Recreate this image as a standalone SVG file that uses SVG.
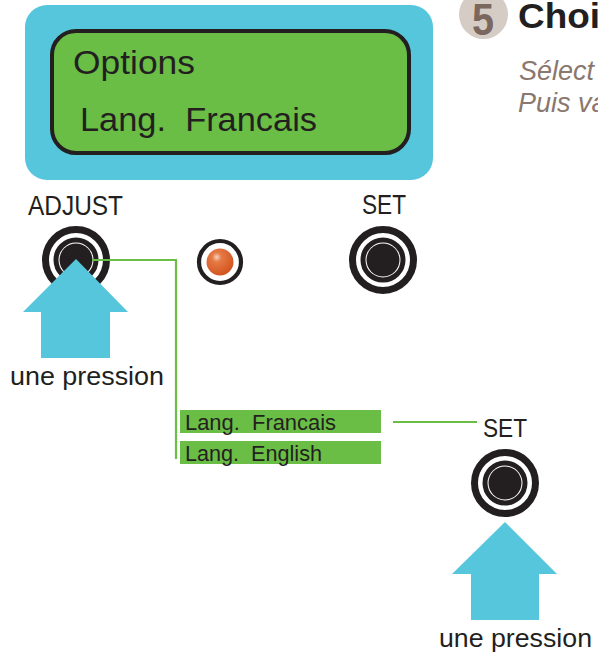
<svg xmlns="http://www.w3.org/2000/svg" width="598" height="659" viewBox="0 0 598 659">
  <style>
    .lbl { font-family: "Liberation Sans", Arial, sans-serif; fill: #231F20; white-space: pre; }
    .lcd { fill: #6ABD45; stroke: #231F20; stroke-width: 4; }
    .panel { fill: #56C6DD; }
    .press { fill: #56C6DD; }
    .ring-o { fill: none; stroke: #231F20; stroke-width: 7; }
    .ring-i { fill: none; stroke: #231F20; stroke-width: 5; }
    .disc { fill: #231F20; }
    .menu { fill: #6ABD45; }
    .wire { fill: none; stroke: #6ABD45; stroke-width: 2.2; }
    .head { font-family: "Liberation Sans", Arial, sans-serif; font-weight: bold; }
    .note { font-family: "Liberation Sans", Arial, sans-serif; font-style: italic; fill: #8A786E; }
  </style>
  <defs>
    <radialGradient id="ledGlow" cx="0.38" cy="0.32" r="0.7">
      <stop offset="0" stop-color="#F7D2BE"/>
      <stop offset="0.25" stop-color="#E67A45"/>
      <stop offset="1" stop-color="#D2541F"/>
    </radialGradient>
    <g id="button">
      <circle class="ring-o" r="30.5"/>
      <circle class="ring-i" r="20"/>
      <circle class="disc" r="16.5"/>
    </g>
  </defs>

  <!-- step heading -->
  <g id="step-heading">
    <circle cx="483.5" cy="14.5" r="24.5" fill="#D6CCC6"/>
    <text x="483" y="35" text-anchor="middle" class="head" font-size="44" fill="#7A675D" textLength="22" lengthAdjust="spacingAndGlyphs">5</text>
    <text x="518" y="28" class="head" font-size="35" fill="#231F20" textLength="82" lengthAdjust="spacingAndGlyphs">Choi</text>
    <text x="519" y="80" class="note" font-size="27">Sélect</text>
    <text x="518" y="112" class="note" font-size="27">Puis va</text>
  </g>

  <!-- display unit -->
  <g id="display">
    <rect class="panel" x="25" y="5" width="408" height="175" rx="22"/>
    <rect class="lcd" x="52" y="31" width="357" height="122" rx="24"/>
    <text x="73" y="74" class="lbl" font-size="33" textLength="122" lengthAdjust="spacingAndGlyphs">Options</text>
    <text x="80" y="131" class="lbl" font-size="34" textLength="237" lengthAdjust="spacingAndGlyphs">Lang.  Francais</text>
  </g>

  <!-- front buttons -->
  <g id="adjust-button">
    <text x="28" y="215" class="lbl" font-size="27" textLength="95" lengthAdjust="spacingAndGlyphs">ADJUST</text>
    <use href="#button" x="76" y="260"/>
  </g>

  <g id="led">
    <circle cx="220" cy="262" r="21" fill="none" stroke="#231F20" stroke-width="4.2"/>
    <circle cx="220" cy="262" r="13.5" fill="url(#ledGlow)"/>
  </g>

  <g id="set-button">
    <text x="362" y="214" class="lbl" font-size="27" textLength="44" lengthAdjust="spacingAndGlyphs">SET</text>
    <use href="#button" x="383" y="260"/>
  </g>

  <!-- menu entries -->
  <g id="menu-francais">
    <rect class="menu" x="180" y="410" width="201" height="23"/>
    <text x="185" y="430" class="lbl" font-size="22" textLength="151" lengthAdjust="spacingAndGlyphs">Lang.  Francais</text>
  </g>
  <g id="menu-english">
    <rect class="menu" x="180" y="441" width="201" height="23"/>
    <text x="185" y="461" class="lbl" font-size="22" textLength="137" lengthAdjust="spacingAndGlyphs">Lang.  English</text>
  </g>

  <g id="set-button-confirm">
    <text x="483" y="437" class="lbl" font-size="25" textLength="44" lengthAdjust="spacingAndGlyphs">SET</text>
    <use href="#button" x="505" y="483"/>
  </g>

  <!-- connectors -->
  <g id="connectors">
    <polyline class="wire" points="92,260 176,260 176,459"/>
    <line class="wire" x1="393" y1="422" x2="477" y2="422"/>
  </g>

  <!-- press indicators -->
  <g id="press-adjust">
    <polygon class="press" points="76,259 128,312 110,312 110,358 41,358 41,312 23,312"/>
    <text x="10" y="385" class="lbl" font-size="25" textLength="154" lengthAdjust="spacingAndGlyphs">une pression</text>
  </g>
  <g id="press-set">
    <polygon class="press" points="505,522 557,574 539,574 539,620 471,620 471,574 452,574"/>
    <text x="439" y="647" class="lbl" font-size="25" textLength="153" lengthAdjust="spacingAndGlyphs">une pression</text>
  </g>
</svg>
